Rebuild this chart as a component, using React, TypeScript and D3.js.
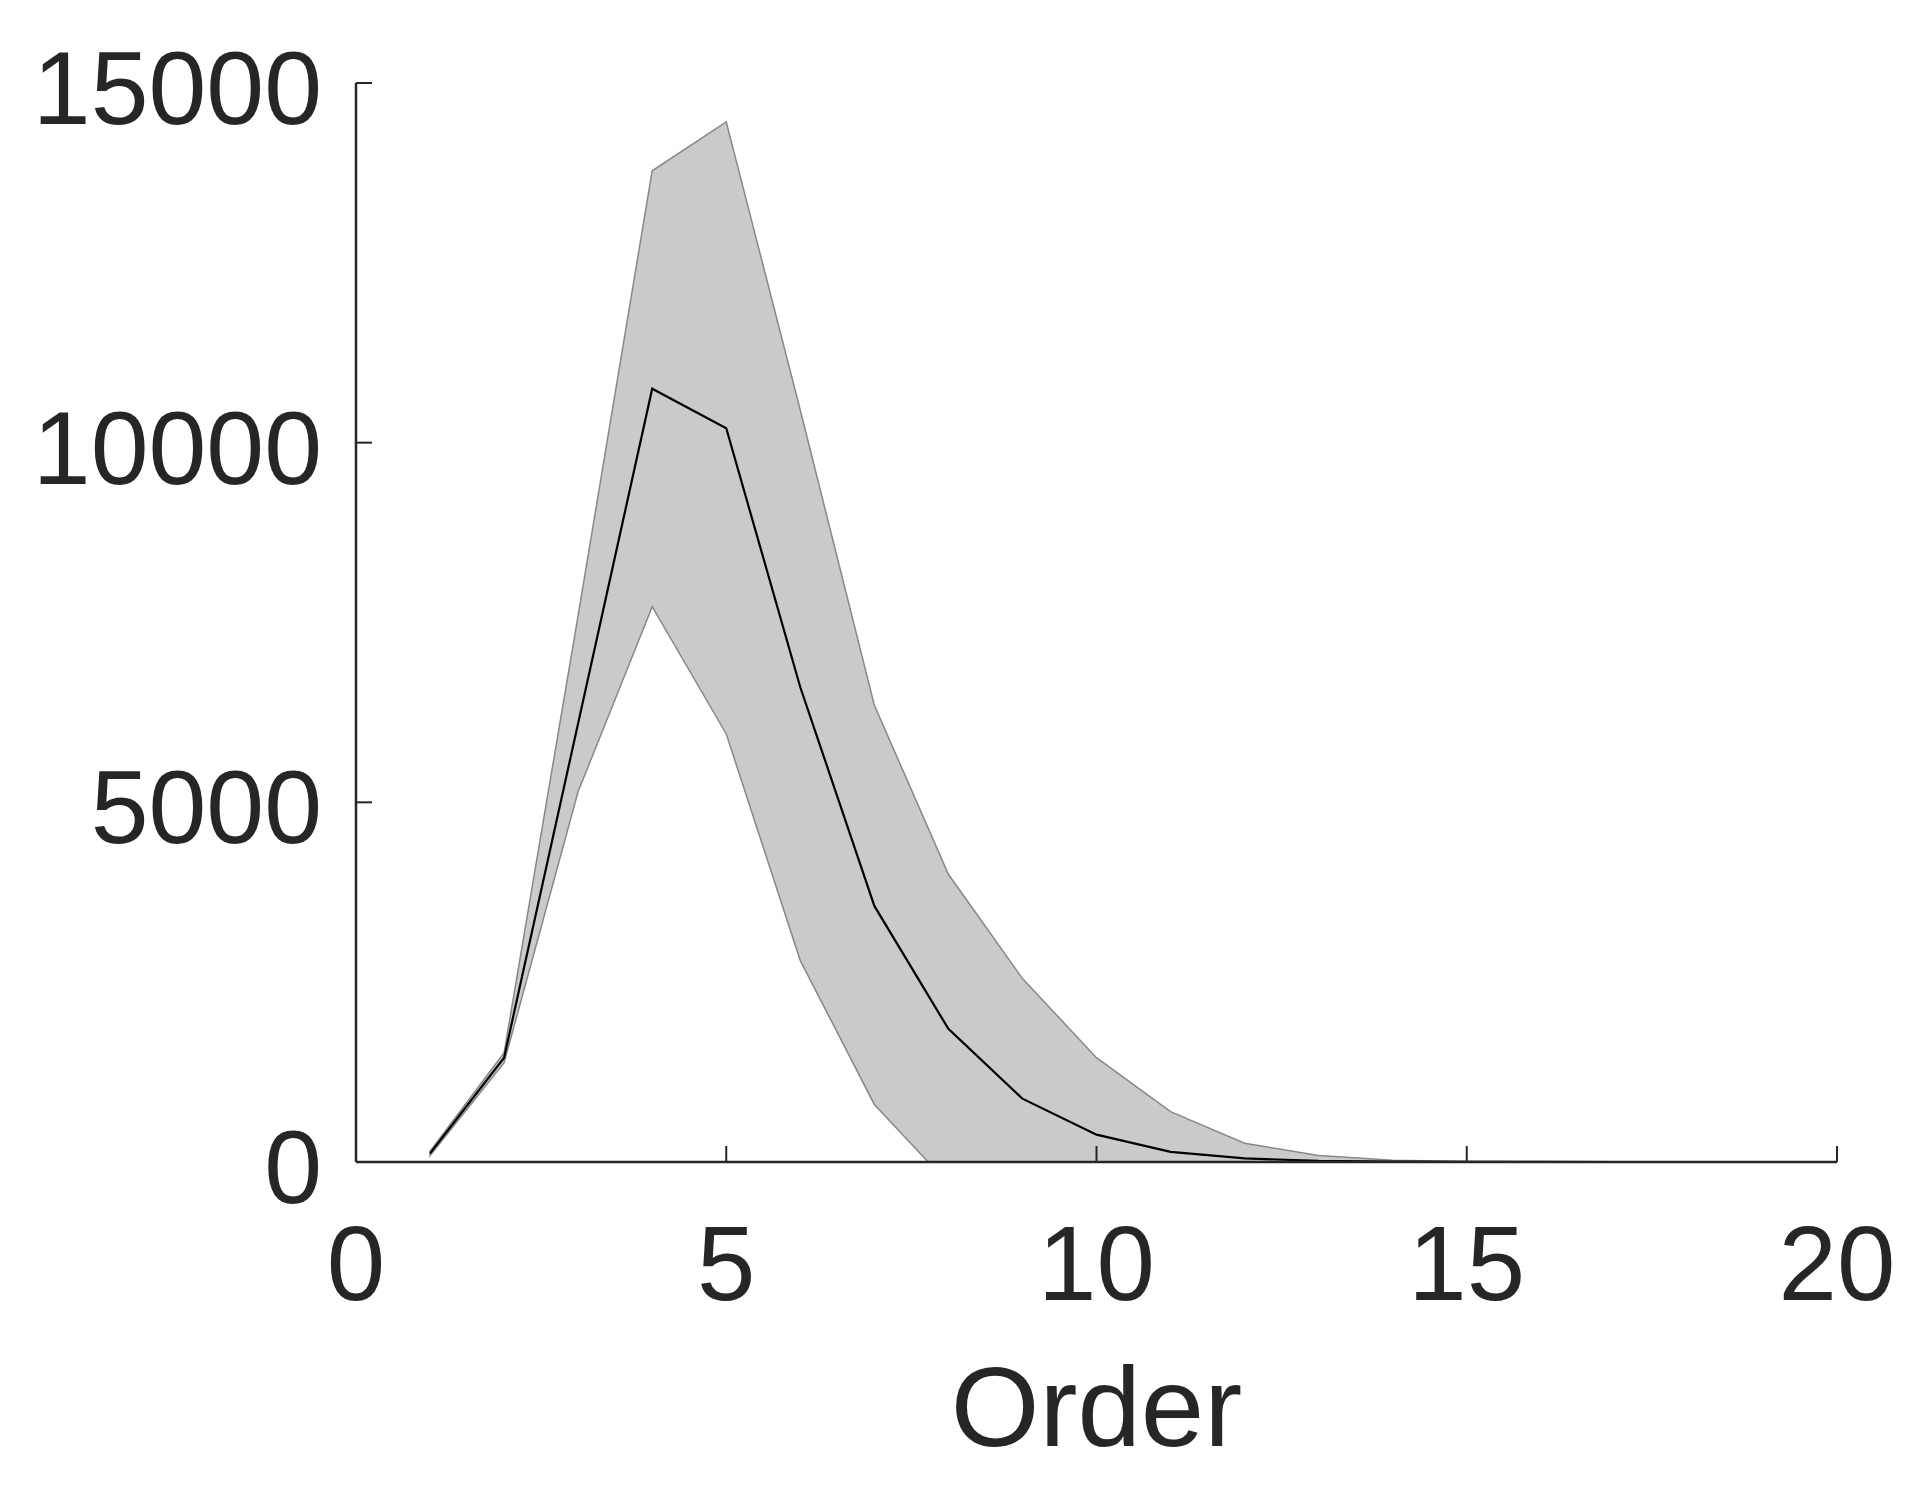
import React from "react";
import { scaleLinear, area, line } from "d3";

// order on the x axis
const orders = [1, 2, 3, 4, 5, 6, 7, 8, 9, 10, 11, 12, 13, 14, 15, 16, 17, 18, 19, 20];
// mean count
const meanVals = [120, 1450, 6100, 10750, 10200, 6600, 3560, 1850, 880, 380, 140, 50, 15, 5, 2, 1, 0, 0, 0, 0];
// band upper / lower edges
const upperVals = [150, 1520, 7600, 13780, 14460, 10450, 6350, 4000, 2550, 1450, 700, 260, 90, 25, 8, 3, 1, 0, 0, 0];
const lowerVals = [90, 1380, 5150, 7720, 5950, 2800, 800, -300, -790, -690, -420, -160, -60, -15, -4, -1, -1, 0, 0, 0];

const xTicks = [0, 5, 10, 15, 20];
const yTicks = [0, 5000, 10000, 15000];
const xLabel = "Order";

const App = () => {
	const width = 1916;
	const height = 1497;
	const left = 356;
	const right = 1837;
	const top = 83;
	const bottom = 1162;

	const xScale = scaleLinear().domain([0, 20]).range([left, right]);
	const yScale = scaleLinear().domain([0, 15000]).range([bottom, top]);

	const idx = orders.map((_, i) => i);

	const bandPath = area<number>()
		.x((i) => xScale(orders[i]))
		.y0((i) => yScale(lowerVals[i]))
		.y1((i) => yScale(upperVals[i]))(idx);

	const meanPath = line<number>()
		.x((i) => xScale(orders[i]))
		.y((i) => yScale(meanVals[i]))(idx);

	const axisColor = "#262626";
	const font = "'Liberation Sans', Arial, sans-serif";
	const tickLen = 16;

	return (
		<svg
			width={width}
			height={height}
			style={{ position: "absolute", left: 0, top: 0, background: "#fff" }}
		>
			<defs>
				<clipPath id="plotClip">
					<rect x={left} y={top} width={right - left} height={bottom - top} />
				</clipPath>
			</defs>
			<g clipPath="url(#plotClip)">
				<path d={bandPath || ""} fill="#cacaca" stroke="#888" strokeWidth={1.5} />
				<path d={meanPath || ""} fill="none" stroke="#000" strokeWidth={2.2} />
			</g>

			{/* axes */}
			<line x1={left} x2={left} y1={top} y2={bottom} stroke={axisColor} strokeWidth={2.5} />
			<line x1={left} x2={right} y1={bottom} y2={bottom} stroke={axisColor} strokeWidth={2.5} />

			{xTicks.map((t) => (
				<g key={"x" + t}>
					<line
						x1={xScale(t)}
						x2={xScale(t)}
						y1={bottom}
						y2={bottom - tickLen}
						stroke={axisColor}
						strokeWidth={2}
					/>
					<text
						x={xScale(t)}
						y={1300}
						textAnchor="middle"
						fontFamily={font}
						fontSize={105}
						fill={axisColor}
					>
						{t}
					</text>
				</g>
			))}

			{yTicks.map((t) => (
				<g key={"y" + t}>
					<line
						x1={left}
						x2={left + tickLen}
						y1={yScale(t)}
						y2={yScale(t)}
						stroke={axisColor}
						strokeWidth={2}
					/>
					<text
						x={322}
						y={yScale(t) + 41}
						textAnchor="end"
						fontFamily={font}
						fontSize={104}
						fill={axisColor}
					>
						{t}
					</text>
				</g>
			))}

			<text
				x={(left + right) / 2}
				y={1446}
				textAnchor="middle"
				fontFamily={font}
				fontSize={114}
				fill={axisColor}
			>
				{xLabel}
			</text>
		</svg>
	);
};

export default App;
